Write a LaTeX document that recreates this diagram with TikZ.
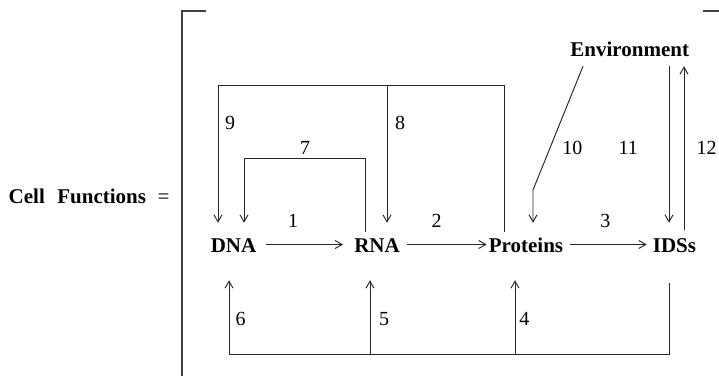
\documentclass[tikz,border=0pt]{standalone}
\usepackage{fontspec}
\setmainfont{Liberation Serif}
\usetikzlibrary{arrows.meta}
\tikzset{
  conn/.style={line width=0.95pt, draw=black!85},
  arr/.style={conn, -{Straight Barb[length=7pt,width=8pt]}},
  term/.style={font=\bfseries\fontsize{21}{25}\selectfont, inner sep=0pt, text height=15pt, text depth=0pt, anchor=base},
  num/.style={font=\fontsize{20}{24}\selectfont, inner sep=0pt, anchor=base},
  brk/.style={line width=1.2pt, draw=black!75}
}
\begin{document}
\begin{tikzpicture}[x=1pt,y=-1pt]
\useasboundingbox (0,0) rectangle (719,375);
% bracket
\draw[brk] (206,11) -- (182,11) -- (182,376);
\draw[brk] (703,11) -- (720,11);
% left side
\node[term] (cell) at (26.8,203) {Cell};
\node[term] (func) at (101.7,203) {Functions};
\node[num, font=\fontsize{21}{25}\selectfont] (eq) at (163.5,203) {=};
% main nodes
\node[term] (dna) at (233.5,252) {DNA};
\node[term] (rna) at (377,252) {RNA};
\node[term] (prot) at (526,252) {Proteins};
\node[term] (ids) at (674.5,252) {IDSs};
\node[term] (env) at (629.7,56) {Environment};
% number labels
\node[num] (n1) at (293,227) {1};
\node[num] (n2) at (436.7,227) {2};
\node[num] (n3) at (605.3,227) {3};
\node[num] (n4) at (524.3,325) {4};
\node[num] (n5) at (384,325) {5};
\node[num] (n6) at (240.7,325) {6};
\node[num] (n7) at (305,154) {7};
\node[num] (n8) at (400,129) {8};
\node[num] (n9) at (230,129) {9};
\node[num] (n10) at (572.3,154) {10};
\node[num] (n11) at (628.3,154) {11};
\node[num] (n12) at (706.7,154) {12};
% horizontal arrows
\draw[arr, shorten <=9.5pt, shorten >=11pt] (dna.east) -- (rna.west);
\draw[arr, shorten <=7pt, shorten >=2pt] (rna.east) -- (prot.west);
\draw[arr, shorten <=7pt, shorten >=6pt] (prot.east) -- (ids.west);
% end points
\coordinate (d9) at ([xshift=-15.5pt,yshift=14pt]dna.north);
\coordinate (d7) at ([xshift=10.5pt,yshift=14pt]dna.north);
\coordinate (r8) at ([xshift=10pt,yshift=14pt]rna.north);
\coordinate (r7) at ([xshift=-12pt,yshift=5pt]rna.north);
\coordinate (p9) at ([xshift=-22pt,yshift=5pt]prot.north);
\coordinate (p10) at ([xshift=7pt,yshift=14pt]prot.north);
\coordinate (i11) at ([xshift=-5.5pt,yshift=14pt]ids.north);
\coordinate (i12) at ([xshift=9.5pt,yshift=7pt]ids.north);
\coordinate (e10) at ([xshift=-46.7pt,yshift=-10pt]env.south);
\coordinate (e11) at (i11 |- e10);
\coordinate (e12) at (i12 |- e10);
\coordinate (bend10) at (p10 |- 0,190);
\coordinate (d6) at ([xshift=-4.5pt,yshift=-28pt]dna.south);
\coordinate (r5) at ([xshift=-7pt,yshift=-28pt]rna.south);
\coordinate (p4) at ([xshift=-11pt,yshift=-28pt]prot.south);
\coordinate (i4) at ([xshift=-5.5pt,yshift=-31pt]ids.south);
\coordinate (b6) at (d6 |- 0,354);
\coordinate (t9) at (d9 |- 0,85);
\coordinate (t7) at (d7 |- 0,158);
% top loops
\draw[arr] (p9) |- (t9) -- (d9);
\draw[arr] (r8 |- t9) -- (r8);
\draw[arr] (r7) |- (t7) -- (d7);
% environment
\draw[arr] (e10) -- (bend10) -- (p10);
\draw[arr] (e11) -- (i11);
\draw[arr] (i12) -- (e12);
% bottom feedback
\draw[arr] (i4) |- (b6) -- (d6);
\draw[arr] (r5 |- b6) -- (r5);
\draw[arr] (p4 |- b6) -- (p4);
\end{tikzpicture}
\end{document}
